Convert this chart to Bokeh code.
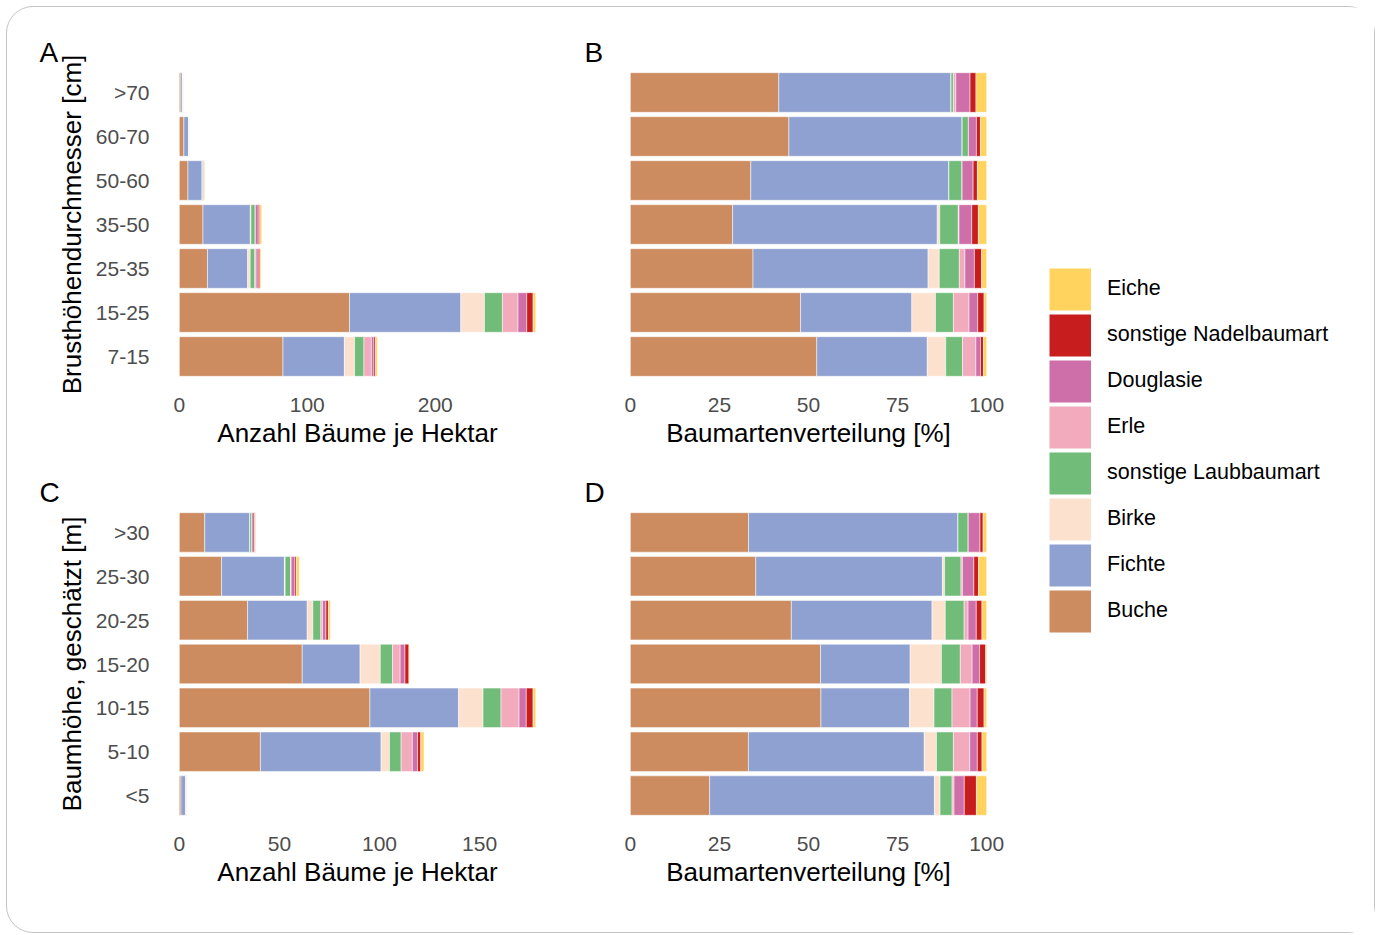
from bokeh.plotting import figure
from bokeh.models import ColumnDataSource, FactorRange, Range1d, FixedTicker, Legend, LegendItem
from bokeh.layouts import row, column
from bokeh.embed import file_html
from bokeh.resources import INLINE

FONT = "Liberation Sans"

species = ["Buche", "Fichte", "Birke", "sonstige Laubbaumart", "Erle",
           "Douglasie", "sonstige Nadelbaumart", "Eiche"]
colors = ["#CD8C5F", "#8FA1D1", "#FCE1CE", "#71BC78", "#F2ABBC",
          "#CF6FA9", "#C81D1F", "#FFD35E"]

# Brusthöhendurchmesser classes (top to bottom as shown)
dbh_classes = [">70", "60-70", "50-60", "35-50", "25-35", "15-25", "7-15"]
dbh_buche = [1.25, 3.56, 6.76, 18.5, 22.0, 133.0, 81.0]
dbh_fichte = [1.45, 3.89, 11.12, 37.0, 31.4, 87.0, 48.0]
dbh_birke = [0.0, 0.0, 0.0, 0.45, 2.0, 18.5, 8.0]
dbh_laub = [0.02, 0.14, 0.74, 3.35, 3.6, 14.0, 7.3]
dbh_erle = [0.02, 0.0, 0.0, 0.13, 1.0, 12.2, 5.8]
dbh_douglasie = [0.12, 0.18, 0.62, 2.3, 1.7, 6.8, 2.0]
dbh_nadel = [0.05, 0.09, 0.24, 1.2, 1.3, 5.0, 1.3]
dbh_eiche = [0.09, 0.14, 0.52, 1.5, 0.9, 2.0, 1.4]

# Baumhöhe classes (top to bottom as shown)
height_classes = [">30", "25-30", "20-25", "15-20", "10-15", "5-10", "<5"]
h_buche = [12.7, 21.1, 34.1, 61.4, 95.2, 40.5, 0.85]
h_fichte = [22.5, 31.4, 29.8, 28.9, 44.3, 60.3, 2.41]
h_birke = [0.0, 0.36, 2.8, 10.1, 12.2, 4.2, 0.06]
h_laub = [1.1, 2.76, 4.0, 6.1, 9.0, 5.8, 0.13]
h_erle = [0.0, 0.24, 0.83, 3.8, 9.0, 5.6, 0.02]
h_douglasie = [1.26, 1.92, 1.74, 2.4, 3.6, 2.6, 0.11]
h_nadel = [0.34, 0.78, 1.2, 2.0, 3.4, 1.6, 0.13]
h_eiche = [0.38, 1.38, 1.0, 0.3, 1.3, 1.6, 0.11]

count_ticks_dbh = [0, 100, 200]
count_ticks_h = [0, 50, 100, 150]
pct_ticks = [0, 25, 50, 75, 100]

dbh_data = dict(zip(species, [dbh_buche, dbh_fichte, dbh_birke, dbh_laub,
                              dbh_erle, dbh_douglasie, dbh_nadel, dbh_eiche]))
h_data = dict(zip(species, [h_buche, h_fichte, h_birke, h_laub,
                            h_erle, h_douglasie, h_nadel, h_eiche]))


def totals(data, n):
    return [sum(data[s][i] for s in species) for i in range(n)]


def to_percent(data, n):
    tot = totals(data, n)
    return {s: [100.0 * data[s][i] / tot[i] for i in range(n)] for s in species}


def make_panel(classes, data, xstart, xend, ticks, letter, xlabel, ylabel,
               show_y, mb_left, mb_right, mb_top, mb_bottom, fh, title_offset):
    src = dict(data)
    src["cls"] = classes
    source = ColumnDataSource(src)
    p = figure(frame_width=392, frame_height=fh,
               y_range=FactorRange(factors=list(reversed(classes))),
               x_range=Range1d(xstart, xend),
               output_backend="svg", toolbar_location=None,
               min_border_left=mb_left, min_border_right=mb_right,
               min_border_top=mb_top, min_border_bottom=mb_bottom,
               title=letter)
    p.hbar_stack(species, y="cls", height=0.9, fill_color=colors,
                 line_color="white", line_width=0.5, source=source)
    p.grid.visible = False
    p.outline_line_color = None
    p.background_fill_color = "white"
    p.border_fill_color = None
    p.title.text_font = FONT
    p.title.text_font_size = "28px"
    p.title.text_font_style = "normal"
    p.title.text_color = "black"
    p.title.offset = title_offset
    p.title.standoff = 6

    for ax in [p.xaxis[0], p.yaxis[0]]:
        ax.major_tick_line_color = None
        ax.minor_tick_line_color = None
        ax.axis_line_color = None
        ax.major_label_text_font = FONT
        ax.major_label_text_font_size = "21px"
        ax.major_label_text_color = "#4d4d4d"
        ax.axis_label_text_font = FONT
        ax.axis_label_text_font_size = "26px"
        ax.axis_label_text_font_style = "normal"
        ax.axis_label_text_color = "black"
    p.xaxis.ticker = FixedTicker(ticks=ticks)
    p.xaxis.axis_label = xlabel
    p.xaxis.major_label_standoff = 13
    p.xaxis.axis_label_standoff = 3
    if show_y:
        p.yaxis.axis_label = ylabel
        p.yaxis.major_label_standoff = 6
        p.yaxis.axis_label_standoff = 6
    else:
        p.yaxis.visible = False
    return p


n1 = len(dbh_classes)
n2 = len(height_classes)
maxA = max(totals(dbh_data, n1))
maxC = max(totals(h_data, n2))

pA = make_panel(dbh_classes, dbh_data, -0.05 * maxA, 1.05 * maxA, count_ticks_dbh,
                "A", "Anzahl Bäume je Hektar", "Brusthöhendurchmesser [cm]",
                True, 154, 30, 63, 72, 308, -122)
pB = make_panel(dbh_classes, to_percent(dbh_data, n1), -5, 105, pct_ticks,
                "B", "Baumartenverteilung [%]", "", False, 29, 20, 63, 72, 308, -28)
pC = make_panel(height_classes, h_data, -0.05 * maxC, 1.05 * maxC, count_ticks_h,
                "C", "Anzahl Bäume je Hektar", "Baumhöhe, geschätzt [m]",
                True, 154, 30, 60, 115, 307, -122)
pD = make_panel(height_classes, to_percent(h_data, n2), -5, 105, pct_ticks,
                "D", "Baumartenverteilung [%]", "", False, 29, 20, 60, 115, 307, -28)

# legend figure: dummy thick-line renderers outside the visible range give square keys
pL = figure(width=350, height=925, x_range=(0, 1), y_range=(0, 1),
            output_backend="svg", toolbar_location=None, min_border=0)
pL.axis.visible = False
pL.grid.visible = False
pL.outline_line_color = None
items = []
for s, c in reversed(list(zip(species, colors))):
    r = pL.line(x=[5, 6], y=[5, 5], line_width=42, line_color=c, line_cap="butt")
    items.append(LegendItem(label=s, renderers=[r]))
legend = Legend(items=items, location=(25, 298), glyph_width=42, glyph_height=46,
                spacing=0, padding=0, margin=0, label_standoff=16,
                label_text_font=FONT, label_text_font_size="21.5px",
                label_text_color="black", border_line_color=None,
                background_fill_alpha=0)
pL.add_layout(legend, "center")

grid = column(row(pA, pB), row(pC, pD))
root = row(grid, pL, styles={"border": "1.5px solid #c4c4c4",
                             "border-radius": "27px",
                             "margin-left": "6px", "margin-top": "5.5px",
                             "background": "white"})

open("out.html", "w").write(file_html(root, INLINE))
